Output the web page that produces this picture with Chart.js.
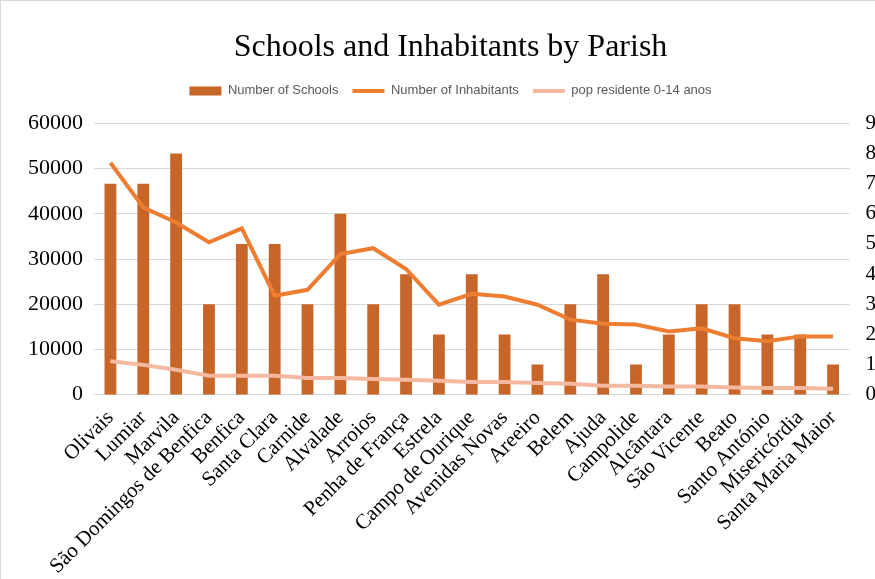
<!DOCTYPE html>
<html>
<head>
<meta charset="utf-8">
<script src="https://cdn.jsdelivr.net/npm/chart.js"></script>
<style>
  html, body { margin: 0; padding: 0; background: #fff; overflow: hidden; }
  #wrap { width: 884px; height: 582px; position: relative; border-left: 1px solid #d9d9d9; border-top: 1px solid #d9d9d9; box-sizing: border-box; }
</style>
</head>
<body>
<div id="wrap"><canvas id="chart"></canvas></div>
<script>
const parishes = ["Olivais", "Lumiar", "Marvila", "São Domingos de Benfica", "Benfica", "Santa Clara", "Carnide", "Alvalade", "Arroios", "Penha de França", "Estrela", "Campo de Ourique", "Avenidas Novas", "Areeiro", "Belem", "Ajuda", "Campolide", "Alcântara", "São Vicente", "Beato", "Santo António", "Misericórdia", "Santa Maria Maior"];
const schools = [7, 7, 8, 3, 5, 5, 3, 6, 3, 4, 2, 4, 2, 1, 3, 4, 1, 2, 3, 3, 2, 2, 1];
const inhabitants = [51300, 41400, 38100, 33700, 36800, 21900, 23200, 31100, 32400, 27800, 19900, 22300, 21700, 19900, 16600, 15700, 15500, 14000, 14700, 12500, 11800, 12900, 12900];
const pop0to14 = [7400, 6600, 5500, 4200, 4200, 4200, 3700, 3700, 3500, 3300, 3100, 2800, 2800, 2600, 2400, 2000, 2000, 1800, 1800, 1600, 1500, 1500, 1300];

const serif = "'Liberation Serif', 'Times New Roman', serif";
const gridColor = ctx => (ctx.index % 2 === 0 ? "#d9d9d9" : "#eeeeee");
const legendOrder = [2, 0, 1];

const chart = new Chart(document.getElementById("chart"), {
  data: {
    labels: parishes,
    datasets: [
      { type: "line", label: "Number of Inhabitants", data: inhabitants, borderColor: "#ED7D31", backgroundColor: "#ED7D31", borderWidth: 4, pointRadius: 0, pointStyle: "line", tension: 0, yAxisID: "y", order: 1 },
      { type: "line", label: "pop residente 0-14 anos", data: pop0to14, borderColor: "#F4B9A0", backgroundColor: "#F4B9A0", borderWidth: 4, pointRadius: 0, pointStyle: "line", tension: 0, yAxisID: "y", order: 2 },
      { type: "bar", label: "Number of Schools", data: schools, backgroundColor: "#C8662A", pointStyle: "rect", barPercentage: 0.36, categoryPercentage: 1, yAxisID: "y1", order: 3 }
    ]
  },
  options: {
    responsive: true,
    maintainAspectRatio: false,
    animation: false,
    layout: { padding: { left: 16, right: 0, top: 0, bottom: 0 } },
    plugins: {
      title: { display: true, text: "Schools and Inhabitants by Parish", color: "#000", font: { family: serif, size: 32, weight: "normal" }, padding: { top: 27, bottom: 4 } },
      legend: {
        position: "top",
        labels: {
          color: "#595959", font: { family: "'Liberation Sans', Arial, sans-serif", size: 13 }, usePointStyle: true, pointStyleWidth: 32, boxHeight: 9, padding: 14,
          sort: (a, b) => legendOrder.indexOf(a.datasetIndex) - legendOrder.indexOf(b.datasetIndex)
        }
      },
      tooltip: { enabled: false }
    },
    scales: {
      x: {
        grid: { display: false },
        border: { color: "#d9d9d9" },
        ticks: { color: "#000", font: { family: serif, size: 21 }, maxRotation: 45, minRotation: 45, autoSkip: false, padding: 3 }
      },
      y: {
        position: "left", min: 0, max: 60000,
        grid: { color: gridColor, drawTicks: false },
        border: { display: false },
        ticks: { stepSize: 5000, color: "#000", font: { family: serif, size: 22 }, padding: 11, callback: v => (v % 10000 === 0 ? v : "") }
      },
      y1: {
        position: "right", min: 0, max: 9,
        grid: { display: false },
        border: { display: false },
        ticks: { stepSize: 1, color: "#000", font: { family: serif, size: 21 }, padding: 8 }
      }
    }
  }
});

// extra gap between legend and plot area
const legendFit = chart.legend.fit;
chart.legend.fit = function () {
  legendFit.call(this);
  this.height += 16;
};
chart.update();
</script>
</body>
</html>
